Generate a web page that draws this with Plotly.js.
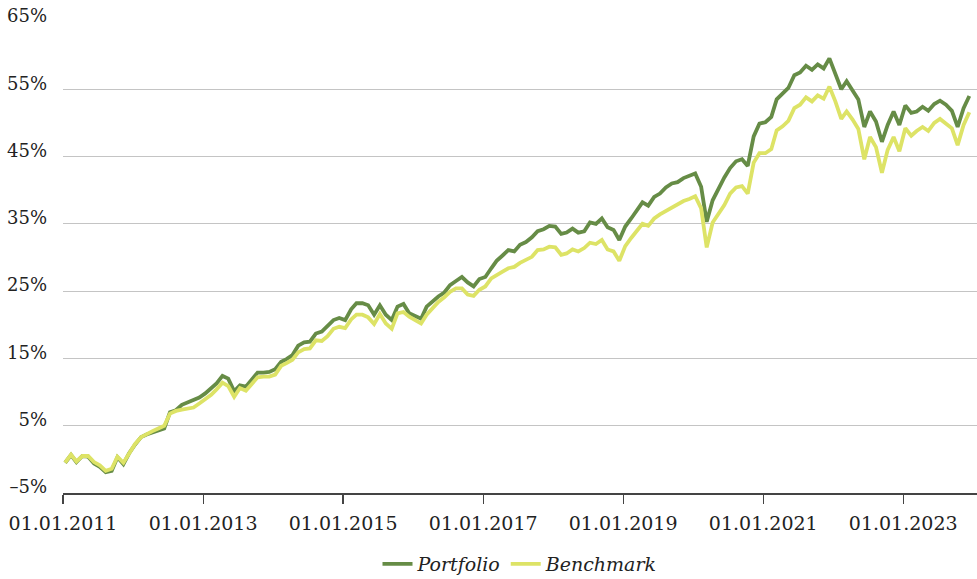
<!DOCTYPE html>
<html>
<head>
<meta charset="utf-8">
<script src="https://cdn.plot.ly/plotly-3.0.1.min.js"></script>
<style>html,body{margin:0;padding:0;background:#fff;}#chart{width:977px;height:579px;}</style>
</head>
<body>
<div id="chart"></div>
<script>
const startYear = 2011;
const portfolio = [
-0.5,0.65,-0.4,0.5,0.4,-0.6,-1.1,-1.9,-1.7,0.3,-0.7,0.9,
2.2,3.3,3.7,4.0,4.3,4.6,7.0,7.3,8.1,8.5,8.8,9.2,
9.8,10.5,11.3,12.4,12.0,10.1,11.0,10.8,11.8,12.9,12.9,13.0,
13.4,14.5,14.9,15.5,16.9,17.4,17.5,18.7,19.0,19.8,20.7,21.0,
20.7,22.3,23.2,23.2,22.9,21.5,22.9,21.5,20.7,22.7,23.1,21.7,
21.3,20.9,22.7,23.5,24.2,24.8,25.9,26.5,27.1,26.3,25.7,26.8,
27.1,28.4,29.5,30.3,31.1,30.9,31.9,32.3,33.0,33.9,34.2,34.7,
34.6,33.5,33.7,34.3,33.7,33.9,35.2,35.0,35.8,34.5,34.1,32.6,
34.6,35.8,37.0,38.2,37.7,39.0,39.5,40.4,41.0,41.2,41.8,42.2,
42.5,40.5,35.3,38.5,40.3,41.9,43.3,44.3,44.6,43.6,48.0,49.9,
50.1,50.9,53.5,54.4,55.2,57.1,57.5,58.5,57.9,58.7,58.1,59.6,
57.4,55.0,56.2,54.9,53.5,49.4,51.7,50.2,47.2,49.7,51.7,49.7,
52.6,51.5,51.7,52.4,51.8,52.8,53.3,52.7,51.8,49.4,52.2,54.0
];
const benchmark = [
-0.5,0.7,-0.3,0.5,0.5,-0.4,-0.9,-1.7,-1.4,0.4,-0.5,1.0,
2.3,3.3,3.8,4.2,4.6,5.0,6.8,7.2,7.4,7.5,7.7,8.3,
8.9,9.6,10.4,11.4,10.9,9.3,10.6,10.2,11.2,12.2,12.3,12.3,
12.6,13.9,14.3,14.8,15.9,16.4,16.5,17.7,17.6,18.3,19.4,19.7,
19.5,20.8,21.5,21.5,21.1,20.1,21.6,20.2,19.4,21.7,21.9,21.2,
20.7,20.2,21.5,22.5,23.4,24.1,24.9,25.4,25.4,24.5,24.3,25.2,
25.7,26.9,27.3,27.9,28.4,28.6,29.2,29.6,30.1,31.1,31.2,31.6,
31.5,30.4,30.6,31.2,30.9,31.4,32.2,32.0,32.6,31.2,30.9,29.5,
31.7,32.9,34.0,35.0,34.7,35.8,36.4,36.9,37.4,37.8,38.4,38.7,
39.1,37.3,31.5,35.2,36.6,37.8,39.5,40.4,40.6,39.5,44.1,45.5,
45.5,46.1,48.9,49.5,50.3,52.2,52.7,53.8,53.2,54.1,53.6,55.4,
53.2,50.6,51.7,50.5,49.1,44.6,47.9,46.4,42.6,46.0,47.9,45.8,
49.2,48.1,48.8,49.4,48.8,50.0,50.6,49.9,49.2,46.7,49.7,51.6
];
const yTickVals = [-5,5,15,25,35,45,55,65];
const yTickText = ['\u20135%','5%','15%','25%','35%','45%','55%','65%'];
const xTickVals = ['2011-01-01','2013-01-01','2015-01-01','2017-01-01','2019-01-01','2021-01-01','2023-01-01'];
const xTickText = ['01.01.2011','01.01.2013','01.01.2015','01.01.2017','01.01.2019','01.01.2021','01.01.2023'];

const dates = portfolio.map((_, i) => {
  const y = startYear + Math.floor(i / 12);
  const m = (i % 12) + 1;
  return y + '-' + String(m).padStart(2, '0') + '-12';
});

const FONT = 'DejaVu Serif';
const traces = [
  {x: dates, y: portfolio, type: 'scatter', mode: 'lines', name: 'Portfolio',
   line: {color: '#668c46', width: 3.8}},
  {x: dates, y: benchmark, type: 'scatter', mode: 'lines', name: 'Benchmark',
   line: {color: '#dde366', width: 3.8}}
];
const layout = {
  width: 977, height: 579,
  margin: {l: 63, r: 0, t: 22, b: 86, autoexpand: false},
  paper_bgcolor: '#fff', plot_bgcolor: '#fff',
  font: {family: FONT, color: '#222', size: 18},
  showlegend: true,
  legend: {orientation: 'h', x: 0.5, xanchor: 'center', y: -0.151, yanchor: 'middle',
           font: {family: FONT, size: 19, style: 'italic', color: '#222'}, itemwidth: 30},
  xaxis: {
    type: 'date', range: ['2011-01-01', '2024-01-21'],
    tickvals: xTickVals, ticktext: xTickText,
    showgrid: false, zeroline: false,
    showline: true, linecolor: '#444', linewidth: 1.5,
    ticks: 'outside', ticklen: 9, tickwidth: 1.2, tickcolor: '#444',
    ticklabelstandoff: 4,
    tickfont: {family: FONT, size: 19, color: '#222'}
  },
  yaxis: {
    range: [-5, 65], tickvals: yTickVals, ticktext: yTickText,
    showgrid: true, gridcolor: '#c4c4c4', gridwidth: 1,
    zeroline: false, showline: false, ticks: '',
    ticklabelstandoff: 15, ticklabelshift: -6,
    tickfont: {family: FONT, size: 18, color: '#222'}
  }
};
Plotly.newPlot('chart', traces, layout, {displayModeBar: false, staticPlot: true});
</script>
</body>
</html>
